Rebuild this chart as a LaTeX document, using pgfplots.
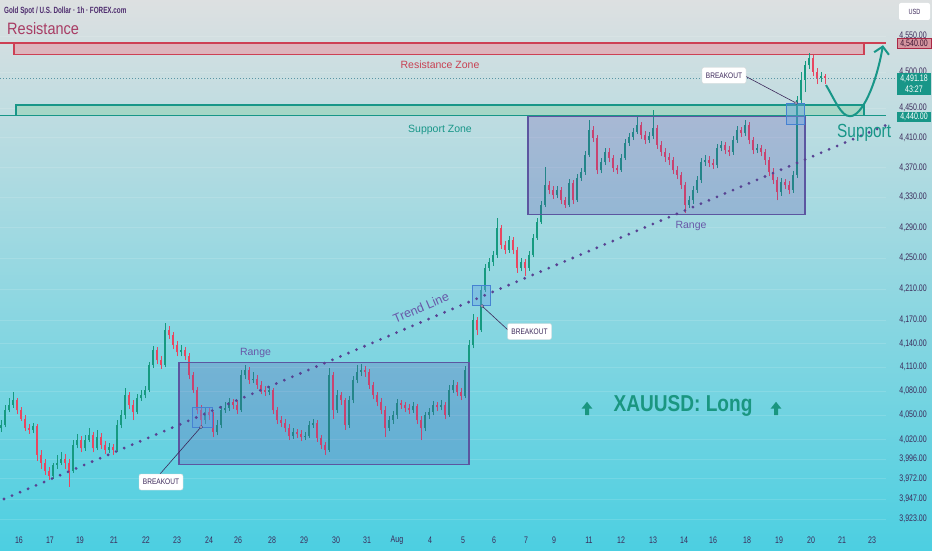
\documentclass[border=0pt]{standalone}
\usepackage{pgfplots}
\pgfplotsset{compat=1.18}
\usepackage{pgfplotstable}
\usepackage{graphicx}
\usepackage{fontspec}
\setmainfont{Liberation Sans}
\usetikzlibrary{arrows.meta}

\definecolor{bgtop}{RGB}{221,224,225}
\definecolor{bgbot}{RGB}{76,207,225}
\definecolor{upc}{RGB}{22,154,128}
\definecolor{dnc}{RGB}{232,70,96}
\definecolor{resl}{RGB}{205,64,84}
\definecolor{resf}{RGB}{221,180,188}
\definecolor{supl}{RGB}{24,150,136}
\definecolor{supf}{RGB}{166,214,198}
\definecolor{rangef}{RGB}{90,60,170}
\definecolor{rangel}{RGB}{92,86,160}
\definecolor{bkf}{RGB}{100,160,225}
\definecolor{bkl}{RGB}{70,130,210}
\definecolor{trendc}{RGB}{88,66,146}
\definecolor{labc}{RGB}{104,88,168}
\definecolor{titlec}{RGB}{78,44,110}
\definecolor{resc}{RGB}{168,60,100}
\definecolor{resz}{RGB}{200,64,82}
\definecolor{axc}{RGB}{60,42,90}
\definecolor{curc}{RGB}{90,150,165}
\definecolor{txtdark}{RGB}{60,40,90}
\definecolor{longc}{RGB}{26,150,128}

\newcommand\lbl[1]{\scalebox{0.74}[1]{#1}}

% prices (USD); x = horizontal position of each 4-px candle slot
\pgfplotstableread{
x o h l c
1 4034 4044 4029 4038
5 4038 4063 4035 4056
9 4056 4071 4054 4063
13 4063 4079 4059 4069
17 4069 4071 4051 4056
21 4056 4060 4043 4046
25 4046 4050 4030 4034
29 4034 4039 4027 4032
33 4032 4041 4028 4037
37 4037 4039 3995 4001
41 4001 4007 3985 3992
45 3992 3997 3977 3982
49 3982 3987 3971 3976
53 3976 3992 3973 3989
57 3989 4001 3985 3992
61 3992 4004 3989 3997
65 3997 4002 3985 3992
69 3992 3997 3963 3982
73 3982 4019 3980 4013
77 4013 4027 4009 4019
81 4019 4024 4004 4009
85 4009 4025 4006 4019
89 4019 4034 4017 4025
93 4025 4029 4004 4009
97 4009 4032 4007 4023
101 4023 4028 4008 4013
105 4013 4018 4002 4007
109 4007 4016 4003 4011
113 4011 4014 4001 4007
117 4007 4044 4004 4038
121 4038 4056 4034 4050
125 4050 4084 4046 4075
129 4075 4079 4058 4063
133 4063 4069 4044 4054
137 4054 4076 4051 4071
141 4071 4081 4068 4075
145 4075 4086 4071 4081
149 4081 4117 4079 4113
153 4113 4137 4109 4132
157 4132 4136 4114 4119
161 4119 4125 4108 4113
165 4113 4166 4110 4157
169 4157 4162 4146 4151
173 4151 4155 4133 4138
177 4138 4143 4124 4129
181 4129 4138 4124 4132
185 4132 4136 4119 4124
189 4124 4128 4095 4100
193 4100 4104 4078 4081
197 4081 4085 4051 4056
201 4056 4063 4037 4044
205 4044 4059 4039 4054
209 4054 4059 4044 4050
213 4050 4054 4023 4029
217 4029 4044 4025 4038
221 4038 4061 4034 4056
225 4056 4066 4053 4059
229 4059 4071 4055 4066
233 4066 4070 4058 4063
237 4063 4068 4051 4056
241 4056 4107 4054 4100
245 4100 4113 4095 4107
249 4107 4110 4089 4094
253 4094 4104 4090 4096
257 4096 4100 4083 4088
261 4088 4093 4076 4081
265 4081 4086 4074 4079
269 4079 4086 4075 4081
273 4081 4084 4051 4056
277 4056 4060 4039 4044
281 4044 4049 4035 4041
285 4041 4045 4029 4034
289 4034 4039 4019 4024
293 4024 4034 4021 4029
297 4029 4033 4022 4027
301 4027 4032 4018 4023
305 4023 4029 4019 4024
309 4024 4043 4022 4038
313 4038 4046 4034 4041
317 4041 4044 4017 4022
321 4022 4025 4008 4013
325 4013 4017 4001 4007
329 4007 4109 4004 4100
333 4100 4104 4046 4056
337 4056 4081 4053 4075
341 4075 4079 4063 4069
345 4069 4071 4032 4038
349 4038 4074 4034 4069
353 4069 4099 4065 4094
357 4094 4113 4090 4104
361 4104 4114 4099 4107
365 4107 4112 4098 4104
369 4104 4108 4083 4088
373 4088 4091 4070 4075
377 4075 4079 4061 4066
381 4066 4071 4051 4056
385 4056 4061 4023 4034
389 4034 4049 4030 4044
393 4044 4055 4039 4050
397 4050 4070 4046 4065
401 4065 4069 4058 4063
405 4063 4066 4054 4059
409 4059 4064 4051 4056
413 4056 4066 4053 4061
417 4061 4064 4039 4044
421 4044 4049 4019 4034
425 4034 4054 4030 4050
429 4050 4059 4046 4054
433 4054 4068 4050 4063
437 4063 4066 4055 4060
441 4060 4069 4056 4063
445 4063 4066 4045 4050
449 4050 4088 4048 4081
453 4081 4094 4078 4088
457 4088 4091 4074 4079
461 4079 4084 4069 4074
465 4074 4112 4071 4107
469 4107 4145 4104 4138
473 4138 4178 4134 4170
477 4170 4174 4151 4157
481 4157 4214 4155 4209
485 4209 4242 4206 4237
489 4237 4250 4233 4245
493 4245 4259 4240 4254
497 4254 4303 4250 4289
501 4289 4293 4262 4267
505 4267 4272 4255 4261
509 4261 4279 4257 4274
513 4274 4278 4255 4261
517 4261 4264 4231 4237
521 4237 4250 4233 4245
525 4245 4249 4227 4237
529 4237 4259 4234 4254
533 4254 4282 4251 4276
537 4276 4303 4274 4297
541 4297 4325 4295 4320
545 4320 4370 4317 4346
549 4346 4352 4334 4340
553 4340 4345 4328 4333
557 4333 4345 4329 4340
561 4340 4344 4321 4326
565 4326 4330 4316 4320
569 4320 4354 4317 4349
573 4349 4353 4321 4326
577 4326 4361 4324 4356
581 4356 4369 4352 4364
585 4364 4392 4360 4387
589 4387 4434 4384 4420
593 4420 4426 4404 4410
597 4410 4414 4361 4366
601 4366 4383 4362 4377
605 4377 4396 4373 4391
609 4391 4396 4377 4383
613 4383 4387 4364 4369
617 4369 4374 4361 4366
621 4366 4388 4364 4383
625 4383 4408 4380 4403
629 4403 4416 4399 4411
633 4411 4423 4407 4418
637 4418 4438 4415 4427
641 4427 4431 4408 4414
645 4414 4419 4401 4407
649 4407 4418 4403 4412
653 4412 4448 4408 4423
657 4423 4427 4395 4400
661 4400 4405 4385 4391
665 4391 4396 4378 4384
669 4384 4389 4374 4380
673 4380 4384 4361 4366
677 4366 4372 4354 4360
681 4360 4364 4341 4346
685 4346 4350 4310 4320
689 4320 4332 4316 4326
693 4326 4345 4322 4340
697 4340 4358 4336 4353
701 4353 4383 4349 4377
705 4377 4387 4372 4380
709 4380 4385 4370 4376
713 4376 4381 4368 4373
717 4373 4401 4369 4396
721 4396 4405 4392 4400
725 4400 4404 4388 4393
729 4393 4399 4385 4391
733 4391 4412 4387 4407
737 4407 4426 4403 4420
741 4420 4424 4411 4416
745 4416 4434 4412 4427
749 4427 4431 4401 4407
753 4407 4411 4388 4393
757 4393 4401 4389 4396
761 4396 4400 4385 4391
765 4391 4395 4374 4380
769 4380 4384 4358 4364
773 4364 4369 4348 4353
777 4353 4357 4326 4337
781 4337 4356 4332 4350
785 4350 4354 4341 4346
789 4346 4352 4334 4340
793 4340 4365 4336 4360
797 4360 4467 4356 4461
801 4461 4500 4456 4489
805 4489 4515 4472 4509
809 4509 4526 4504 4520
813 4520 4523 4494 4500
817 4500 4505 4483 4491
821 4491 4500 4486 4494
825 4494 4497 4483 4491.18
}\candles

\begin{document}
\begin{tikzpicture}
\useasboundingbox (0,0) rectangle (932pt,550pt);
\fill[top color=bgtop, bottom color=bgbot] (0,0) rectangle (932pt,550pt);

% price scale is logarithmic: y = ln(price)
\begin{axis}[
  at={(0pt,22pt)}, anchor=south west,
  scale only axis, width=886pt, height=528pt,
  xmin=0, xmax=886, ymin=8.271855, ymax=8.433855,
  clip=false,
  axis line style={draw=none},
  major tick length=0pt,
  ymajorgrids, grid style={white, opacity=0.13, line width=0.5pt},
  filter discard warning=false,
  xtick={19,50,80,114,146,177,209,238,272,304,336,367,397,430,463,494,526,554,589,621,653,684,713,747,779,811,842,872},
  xticklabels={\lbl{16},\lbl{17},\lbl{19},\lbl{21},\lbl{22},\lbl{23},\lbl{24},\lbl{26},\lbl{28},\lbl{29},\lbl{30},\lbl{31},\lbl{Aug},\lbl{4},\lbl{5},\lbl{6},\lbl{7},\lbl{9},\lbl{11},\lbl{12},\lbl{13},\lbl{14},\lbl{16},\lbl{18},\lbl{19},\lbl{20},\lbl{21},\lbl{23}},
  xticklabel style={anchor=center, yshift=-12pt, inner sep=0pt, font=\fontsize{9.5}{10}\selectfont, text=axc},
  ytick={8.274612,8.280712,8.287026,8.293050,8.299037,8.306472,8.313853,8.321178,8.328451,8.335671,8.345218,8.354674,8.364043,8.373324,8.382519,8.391630,8.400660,8.411833,8.422883},
  yticklabels={\lbl{3,923.00},\lbl{3,947.00},\lbl{3,972.00},\lbl{3,996.00},\lbl{4,020.00},\lbl{4,050.00},\lbl{4,080.00},\lbl{4,110.00},\lbl{4,140.00},\lbl{4,170.00},\lbl{4,210.00},\lbl{4,250.00},\lbl{4,290.00},\lbl{4,330.00},\lbl{4,370.00},\lbl{4,410.00},\lbl{4,450.00},\lbl{4,500.00},\lbl{4,550.00}},
  yticklabel pos=right,
  yticklabel style={anchor=east, xshift=41pt, inner sep=0pt, font=\fontsize{9.5}{10}\selectfont, text=axc},
]

% level lines and zones
\draw[curc, line width=0.6pt, dash pattern=on 1pt off 2pt] (axis cs:0,{ln(4491.18)}) -- (axis cs:897,{ln(4491.18)});
\draw[resl, line width=1.2pt] (axis cs:0,{ln(4540)}) -- (axis cs:886,{ln(4540)});
\filldraw[fill=resf, draw=resl, line width=1.2pt] (axis cs:14,{ln(4540)}) rectangle (axis cs:864,{ln(4524.6)});
\draw[supl, line width=1.2pt] (axis cs:0,{ln(4440)}) -- (axis cs:886,{ln(4440)});
\filldraw[fill=supf, draw=supl, line width=1.2pt] (axis cs:16,{ln(4454.4)}) rectangle (axis cs:864,{ln(4440)});

% candles: up
\addplot[draw=none, mark=none, forget plot,
  x filter/.expression={\thisrow{c}<\thisrow{o} ? nan : \thisrow{x}},
  error bars/.cd, y dir=plus, y explicit, error mark=none,
  error bar style={draw=upc, line width=0.7pt}]
  table[x=x, y expr=ln(\thisrow{l}), y error plus expr=ln(\thisrow{h})-ln(\thisrow{l})] {\candles};
\addplot[draw=none, mark=none, forget plot,
  x filter/.expression={\thisrow{c}<\thisrow{o} ? nan : \thisrow{x}},
  error bars/.cd, y dir=plus, y explicit, error mark=none,
  error bar style={draw=upc, line width=2.8pt}]
  table[x=x, y expr=ln(\thisrow{o}), y error plus expr=ln(\thisrow{c})-ln(\thisrow{o})] {\candles};
% candles: down
\addplot[draw=none, mark=none, forget plot,
  x filter/.expression={\thisrow{c}<\thisrow{o} ? \thisrow{x} : nan},
  error bars/.cd, y dir=plus, y explicit, error mark=none,
  error bar style={draw=dnc, line width=0.7pt}]
  table[x=x, y expr=ln(\thisrow{l}), y error plus expr=ln(\thisrow{h})-ln(\thisrow{l})] {\candles};
\addplot[draw=none, mark=none, forget plot,
  x filter/.expression={\thisrow{c}<\thisrow{o} ? \thisrow{x} : nan},
  error bars/.cd, y dir=plus, y explicit, error mark=none,
  error bar style={draw=dnc, line width=2.8pt}]
  table[x=x, y expr=ln(\thisrow{c}), y error plus expr=ln(\thisrow{o})-ln(\thisrow{c})] {\candles};

% range boxes
\filldraw[fill=rangef, fill opacity=0.22, draw=rangel, line width=1.3pt] (axis cs:179,{ln(4116.6)}) rectangle (axis cs:469,{ln(3989.8)});
\filldraw[fill=rangef, fill opacity=0.22, draw=rangel, line width=1.3pt] (axis cs:528,{ln(4439.3)}) rectangle (axis cs:805,{ln(4307.8)});

% breakout boxes
\filldraw[fill=bkf, fill opacity=0.4, draw=bkl, line width=0.9pt] (axis cs:192,{ln(4060)}) rectangle (axis cs:212,{ln(4035)});
\filldraw[fill=bkf, fill opacity=0.4, draw=bkl, line width=0.9pt] (axis cs:472,{ln(4215)}) rectangle (axis cs:490,{ln(4189)});
\filldraw[fill=bkf, fill opacity=0.4, draw=bkl, line width=0.9pt] (axis cs:786,{ln(4457)}) rectangle (axis cs:804,{ln(4428)});

% trend line
\draw[trendc, line width=3.1pt, line cap=round, dash pattern=on 0pt off 8.7pt] (axis cs:4,{ln(3948)}) -- (axis cs:886,{ln(4427)});

% projection arrow
\draw[supl, line width=2pt, -{Straight Barb[length=7pt,width=15pt]}]
  (axis cs:826,{ln(4481.7)}) .. controls (axis cs:835,{ln(4461.2)}) and (axis cs:841,{ln(4439.3)}) .. (axis cs:850,{ln(4439.3)})
  .. controls (axis cs:862,{ln(4439.3)}) and (axis cs:876,{ln(4482)}) .. (axis cs:883,{ln(4537)});
\end{axis}

\begin{scope}[shift={(0pt,550pt)}, x=1pt, y=-1pt]
% titles
\node[anchor=base west, inner sep=0, text=titlec, font=\fontsize{9}{10}\selectfont\bfseries] at (4,13.3) {\scalebox{0.7}[1]{Gold Spot / U.S. Dollar · 1h · FOREX.com}};
\node[anchor=base west, inner sep=0, text=resc, font=\fontsize{16.5}{18}\selectfont] at (7,35) {\scalebox{0.88}[1]{Resistance}};
\node[anchor=base, inner sep=0, text=resz, font=\fontsize{10.5}{12}\selectfont] at (440,69) {Resistance Zone};
\node[anchor=base, inner sep=0, text=supl, font=\fontsize{10.5}{12}\selectfont] at (440,132.3) {Support Zone};
\node[anchor=base west, inner sep=0, text=supl, font=\fontsize{19}{20}\selectfont] at (837,137.3) {\scalebox{0.81}[1]{Support}};
\node[anchor=base, inner sep=0, text=labc, font=\fontsize{10.5}{12}\selectfont] at (255.5,355) {Range};
\node[anchor=base, inner sep=0, text=labc, font=\fontsize{10.5}{12}\selectfont] at (691,228.3) {Range};
\node[anchor=center, inner sep=0, text=labc, font=\fontsize{12.5}{14}\selectfont, rotate=23] at (421,307.5) {Trend Line};
\node[anchor=base, inner sep=0, text=longc, font=\fontsize{23}{25}\selectfont\bfseries] at (683,411.5) {\scalebox{0.83}[1]{XAUUSD: Long}};
% up arrows
\foreach \ax in {587,776}{
  \fill[longc] (\ax-2,415) -- (\ax-2,408.5) -- (\ax-5.3,408.5) -- (\ax,401.8) -- (\ax+5.3,408.5) -- (\ax+2,408.5) -- (\ax+2,415) -- cycle;
}
% breakout callouts
\draw[txtdark, line width=0.6pt] (160,474) -- (201,427);
\filldraw[fill=white, draw=txtdark, line width=0.5pt] (201,427) circle (1.4);
\draw[txtdark, line width=0.6pt] (508,330) -- (482,306);
\filldraw[fill=white, draw=txtdark, line width=0.5pt] (482,306) circle (1.4);
\draw[txtdark, line width=0.6pt] (745,76) -- (796,103);
\filldraw[fill=white, draw=txtdark, line width=0.5pt] (796,103) circle (1.4);
\foreach \bx/\by in {161/482, 529.5/331.5, 724/75.5}{
  \node[fill=white, draw=black!15, rounded corners=2pt, minimum width=44pt, minimum height=16pt, inner sep=0, text=txtdark, font=\fontsize{8}{9}\selectfont] at (\bx,\by) {\scalebox{0.82}[1]{BREAKOUT}};
}
% price scale markers
\filldraw[fill={rgb,255:red,214;green,150;blue,160}, draw={rgb,255:red,170;green,40;blue,70}, line width=0.8pt] (897,38.5) rectangle (931,48.5);
\node[anchor=center, inner sep=0, text={rgb,255:red,60;green,20;blue,50}, font=\fontsize{9.5}{10}\selectfont] at (914,43.5) {\lbl{4,540.00}};
\fill[supl] (897,73) rectangle (931,95);
\node[anchor=center, inner sep=0, text=white, font=\fontsize{9.5}{10}\selectfont] at (914,78.8) {\lbl{4,491.18}};
\node[anchor=center, inner sep=0, text=white, font=\fontsize{9.5}{10}\selectfont] at (914,89.5) {\lbl{43:27}};
\fill[supl] (897,112) rectangle (931,122);
\node[anchor=center, inner sep=0, text=white, font=\fontsize{9.5}{10}\selectfont] at (914,117) {\lbl{4,440.00}};
\node[fill=white, rounded corners=2pt, minimum width=31pt, minimum height=17pt, inner sep=0, text=txtdark, font=\fontsize{7.5}{9}\selectfont] at (914.5,11.5) {\lbl{USD}};
\end{scope}
\end{tikzpicture}
\end{document}
